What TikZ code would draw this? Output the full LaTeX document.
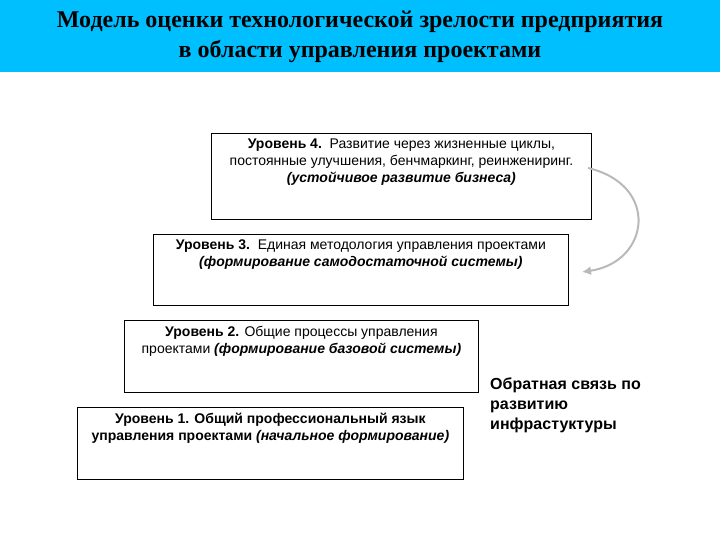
\documentclass[tikz,border=0pt]{standalone}
\usepackage{fontspec}
\setmainfont{Liberation Sans}
\newfontfamily\serifb{Liberation Serif}
\definecolor{hdr}{HTML}{00BFFF}
\usetikzlibrary{arrows.meta}
\begin{document}
\begin{tikzpicture}[x=1pt,y=-1pt,
  lvl/.style={draw=black,line width=0.8pt,anchor=north west,inner sep=0pt},
  lvltxt/.style={anchor=north,align=center,font=\fontsize{14}{17}\selectfont,inner sep=0pt}]
\useasboundingbox (0,0) rectangle (720,540);
\fill[hdr] (0,0) rectangle (720,72);
\node[font=\serifb\bfseries\fontsize{24}{30}\selectfont,align=center] (title) at (360,37)
 {Модель оценки технологической зрелости предприятия\\в области управления проектами};
\node[lvl,minimum width=380,minimum height=86] (l4) at (211,133) {};
\node[lvl,minimum width=415,minimum height=71] (l3) at (153,234) {};
\node[lvl,minimum width=354,minimum height=72] (l2) at (124,320) {};
\node[lvl,minimum width=386,minimum height=72] (l1) at (77,407) {};
\node[lvltxt] (t4) at ([yshift=-6]l4.north) {\textbf{Уровень 4.}\ \ Развитие через жизненные циклы,\\постоянные улучшения, бенчмаркинг, реинжениринг.\\\textbf{\itshape (устойчивое развитие бизнеса)}};
\node[lvltxt] (t3) at ([yshift=-6]l3.north) {\textbf{Уровень 3.}\ \ Единая методология управления проектами\\\textbf{\itshape (формирование самодостаточной системы)}};
\node[lvltxt] (t2) at ([yshift=-6]l2.north) {\textbf{Уровень 2.} Общие процессы управления\\проектами \textbf{\itshape (формирование базовой системы)}};
\node[lvltxt] (t1) at ([yshift=-6]l1.north) {\textbf{Уровень 1. Общий профессиональный язык}\\\textbf{управления проектами \itshape (начальное формирование)}};
\node[anchor=north west,align=left,font=\bfseries\fontsize{16}{20}\selectfont,inner sep=0pt] (fb) at (490,378)
 {Обратная связь по\\развитию\\инфрастуктуры};
\coordinate (a1) at (588,168);
\coordinate (a2) at (582,272);
\draw[gray!55,line width=2pt,-{Latex[length=9pt,width=9pt]}] (a1) .. controls (660,185) and (650,262) .. (a2);
\end{tikzpicture}
\end{document}
